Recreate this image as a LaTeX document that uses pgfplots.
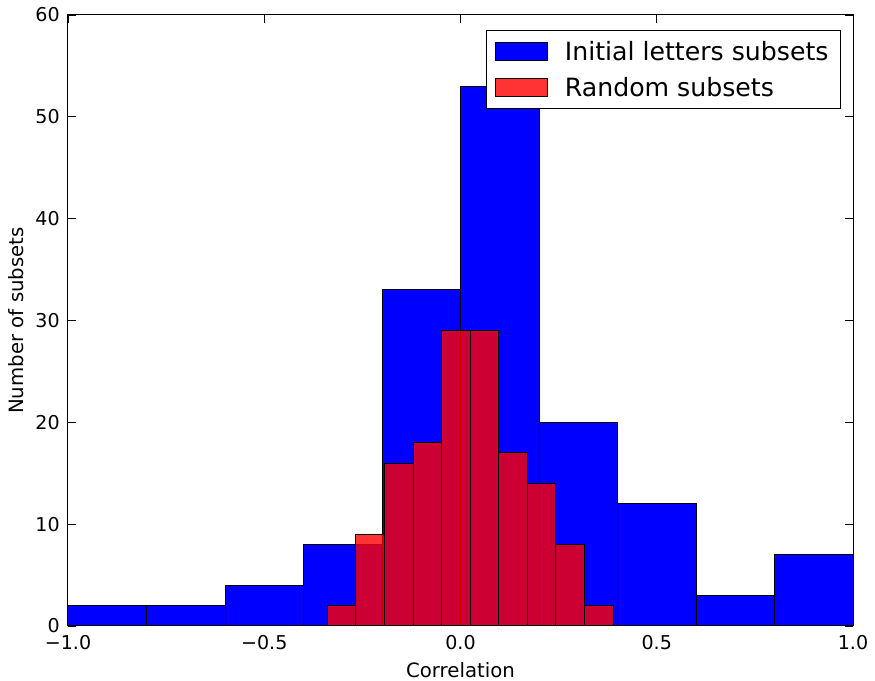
\documentclass[border=0pt]{standalone}
\usepackage{fontspec}
\setmainfont{DejaVu Sans}
\usepackage{pgfplots}
\pgfplotsset{compat=1.18}
\begin{document}
\begin{tikzpicture}
\begin{axis}[
  name=ax,
  width=588.75pt, height=458.25pt,
  scale only axis,
  xmin=-1, xmax=1, ymin=0, ymax=60,
  xtick={-1,-0.5,0,0.5,1},
  xticklabels={−1.0,−0.5,0.0,0.5,1.0},
  ytick={0,10,20,30,40,50,60},
  tick align=inside,
  tick pos=both,
  major tick length=6pt,
  tick style={black, line width=0.6pt},
  axis line style={line width=0.75pt},
  /pgf/number format/assume math mode=true,
  tick label style={font=\fontsize{14.3}{16}\selectfont},
  xticklabel style={inner sep=0pt, yshift=-6.75pt},
  yticklabel style={inner sep=0pt, xshift=-6pt},
  xlabel={Correlation},
  ylabel={Number of subsets},
  label style={font=\fontsize{14.8}{17}\selectfont, inner sep=0pt},
  xlabel style={at={(axis description cs:0.5,0)}, anchor=north, yshift=-27pt},
  ylabel style={at={(axis description cs:-0.0764,0.5)}, anchor=north, rotate=0},
  legend style={at={(rel axis cs:1,1)}, anchor=north east, xshift=-9pt, yshift=-11.25pt,
    font=\fontsize{18.9}{22}\selectfont, draw=black, line width=0.6pt,
    inner xsep=7pt, inner ysep=6pt, row sep=7pt, cells={anchor=west},
    /tikz/every even column/.style={column sep=0pt}},
  legend cell align=left,
  legend image code/.code={\draw[#1, line width=0.4pt] (0pt,-6.75pt) rectangle (39pt,6.75pt);\path[draw=none,fill=none] (0pt,0pt) -- (50pt,0pt);},
]
\addplot[ybar interval, fill=blue, draw=black, line width=0.75pt] coordinates {
(-1.0,2) (-0.8,2) (-0.6,4) (-0.4,8) (-0.2,33) (0.0,53) (0.2,20) (0.4,12) (0.6,3) (0.8,7) (1.0,7)};
\addlegendentry{Initial letters subsets}
\addplot[ybar interval, fill=red, fill opacity=0.8, draw=black, draw opacity=1, line width=0.75pt] coordinates {
(-0.340,2) (-0.267,9) (-0.194,16) (-0.121,18) (-0.048,29) (0.025,29) (0.097,17) (0.170,14) (0.243,8) (0.316,2) (0.389,2)};
\addlegendentry{Random subsets}
\end{axis}
\pgfresetboundingbox
\path[use as bounding box] ([xshift=-51pt,yshift=-41.25pt]ax.south west) rectangle ([xshift=16.5pt,yshift=11.25pt]ax.north east);
\end{tikzpicture}
\end{document}
